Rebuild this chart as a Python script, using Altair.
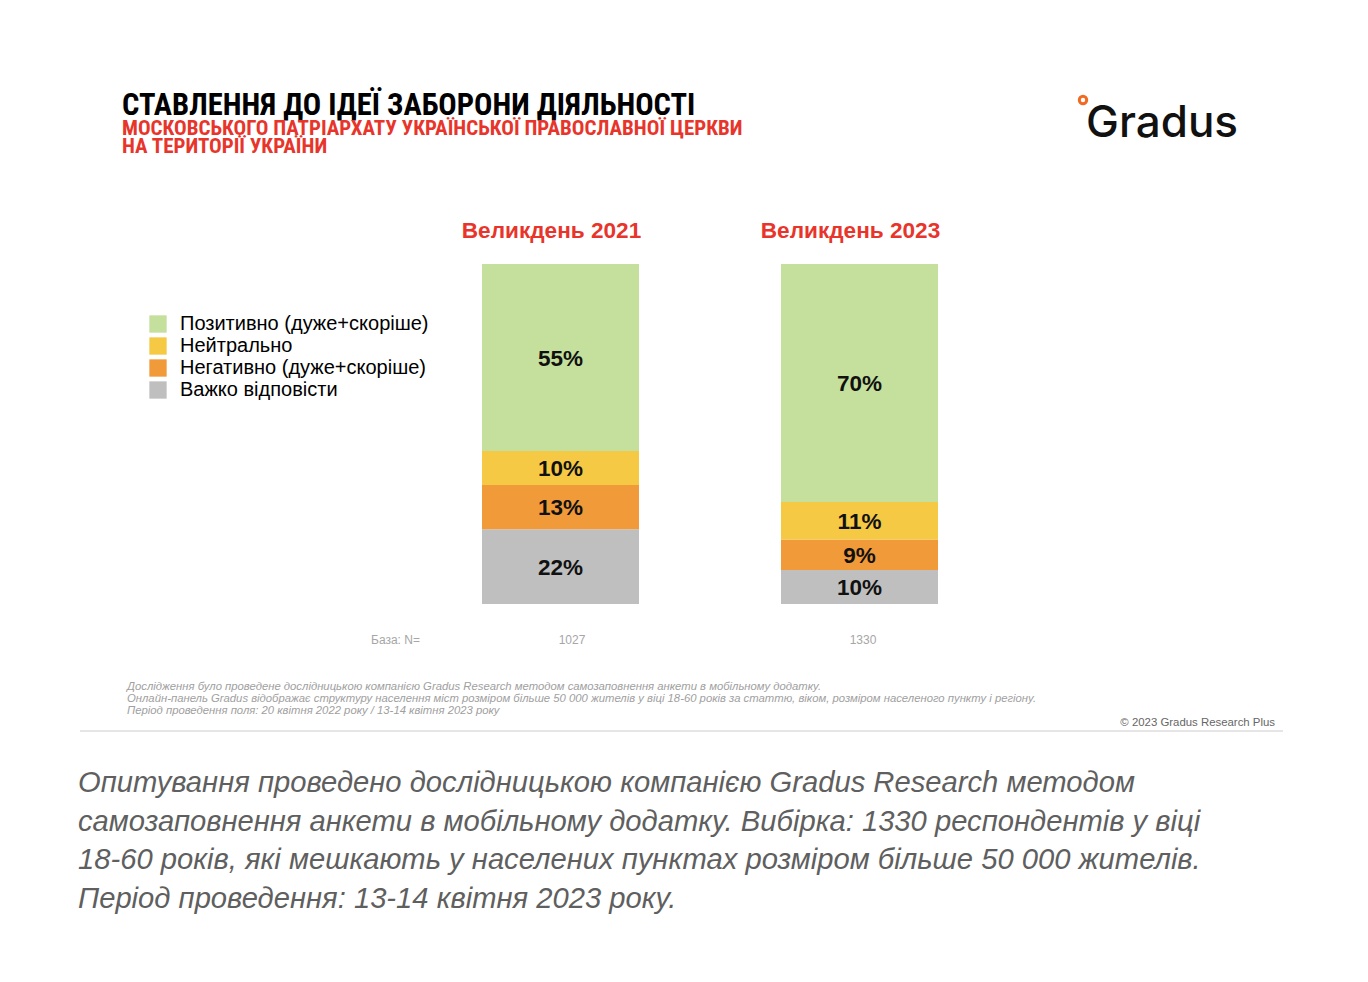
import altair as alt
import pandas as pd

# ---------------- data ----------------
years = ["Великдень 2021", "Великдень 2023"]
categories = ["Позитивно (дуже+скоріше)", "Нейтрально",
              "Негативно (дуже+скоріше)", "Важко відповісти"]
colors = ["#c4e09c", "#f6c945", "#f19a3a", "#bfbfbf"]
values_2021 = [55, 10, 13, 22]
values_2023 = [70, 11, 9, 10]
base_n = ["1027", "1330"]

title_line = "СТАВЛЕННЯ ДО ІДЕЇ ЗАБОРОНИ ДІЯЛЬНОСТІ"
subtitle_lines = ["МОСКОВСЬКОГО ПАТРІАРХАТУ УКРАЇНСЬКОЇ ПРАВОСЛАВНОЇ ЦЕРКВИ",
                  "НА ТЕРИТОРІЇ УКРАЇНИ"]
footnote_lines = [
    "Дослідження було проведене дослідницькою компанією Gradus Research методом самозаповнення анкети в мобільному додатку.",
    "Онлайн-панель Gradus відображає структуру населення міст розміром більше 50 000 жителів у віці 18-60 років за статтю, віком, розміром населеного пункту і регіону.",
    "Період проведення поля: 20 квітня 2022 року / 13-14 квітня 2023 року",
]
caption_lines = [
    "Опитування проведено дослідницькою компанією Gradus Research методом",
    "самозаповнення анкети в мобільному додатку. Вибірка: 1330 респондентів у віці",
    "18-60 років, які мешкають у населених пунктах розміром більше 50 000 жителів.",
    "Період проведення: 13-14 квітня 2023 року.",
]

# ---------------- table ----------------
rows = []
for yr, vals in zip(years, [values_2021, values_2023]):
    start = 0
    # stack from bottom: last category first
    for cat, v in reversed(list(zip(categories, vals))):
        rows.append({"year": yr, "cat": cat, "value": v,
                     "y0": start, "y1": start + v,
                     "mid": start + v / 2, "label": f"{v}%"})
        start += v
df = pd.DataFrame(rows)

W, H = 1352, 966
xscale = alt.Scale(domain=years, range=[474, 930], paddingInner=0.4749, paddingOuter=0)
yscale = alt.Scale(domain=[0, 100], range=[596, 256])
X = alt.X("year:N", scale=xscale, axis=None)

bars = alt.Chart(df).mark_bar(strokeWidth=0).encode(
    x=X,
    y=alt.Y("y0:Q", scale=yscale, axis=None),
    y2="y1:Q",
    color=alt.Color("cat:N", scale=alt.Scale(domain=categories, range=colors),
                    legend=alt.Legend(title=None, orient="none", legendX=140, legendY=306,
                                      symbolType="square", symbolSize=300, symbolStrokeWidth=0,
                                      labelFont="Liberation Sans", labelFontSize=20,
                                      labelColor="#000000", labelOffset=12, rowPadding=2,
                                      labelLimit=0, padding=0)),
)

labels = alt.Chart(df).mark_text(font="Liberation Sans", fontWeight="bold", fontSize=22.5,
                                 color="#111111", baseline="middle", dy=1).encode(
    x=X,
    y=alt.Y("mid:Q", scale=yscale, axis=None),
    text="label:N",
)

hdr = pd.DataFrame({"year": years})
headers = alt.Chart(hdr).mark_text(font="Liberation Sans", fontWeight="bold", fontSize=22.6,
                                   color="#e8352b", baseline="middle", dx=-9).encode(
    x=X, y=alt.value(223), text="year:N")


def txt(text, x, y, **kw):
    return alt.Chart(pd.DataFrame({"t": [text]})).mark_text(**kw).encode(
        x=alt.value(x), y=alt.value(y), text="t:N")


narrow = "Liberation Sans Narrow, Arial Narrow, Roboto Condensed, DejaVu Sans Condensed, sans-serif"
layers = [bars, labels, headers]
layers.append(txt(title_line, 114, 107, font=narrow, fontWeight="bold", fontSize=30.5,
                  color="#000000", align="left", baseline="alphabetic"))
for i, s in enumerate(subtitle_lines):
    layers.append(txt(s, 114, 127 + 18 * i, font=narrow, fontWeight="bold", fontSize=21,
                      color="#e8352b", align="left", baseline="alphabetic"))

# logo
layers.append(txt("Gradus", 1078, 129, font="Inter", fontWeight=500, fontSize=44,
                  color="#111111", align="left", baseline="alphabetic"))
layers.append(alt.Chart(pd.DataFrame({"t": [0]})).mark_point(
    filled=False, stroke="#f26a21", strokeWidth=3, size=55, opacity=1).encode(
    x=alt.value(1075), y=alt.value(92)))

# base
layers.append(txt("База: N=", 363, 632, font="Liberation Sans", fontSize=12,
                  color="#a6a6a6", align="left", baseline="middle"))
for n, xx in zip(base_n, [564, 855]):
    layers.append(txt(n, xx, 632, font="Liberation Sans", fontSize=12,
                      color="#a6a6a6", align="center", baseline="middle"))

# footnotes
for i, s in enumerate(footnote_lines):
    layers.append(txt(s, 119, 682 + 12 * i, font="Liberation Sans", fontStyle="italic",
                      fontSize=11.3, color="#a0a0a0", align="left", baseline="alphabetic"))
layers.append(txt("© 2023 Gradus Research Plus", 1267, 718, font="Liberation Sans",
                  fontSize=11.4, color="#666666", align="right", baseline="alphabetic"))

# separator
layers.append(alt.Chart(pd.DataFrame({"t": [0]})).mark_rule(color="#cccccc", strokeWidth=1).encode(
    x=alt.value(72), x2=alt.value(1275), y=alt.value(723)))

# caption
for i, s in enumerate(caption_lines):
    layers.append(txt(s, 70, 784 + 38.7 * i, font="Liberation Sans", fontStyle="italic",
                      fontSize=29.2, color="#5f5f5f", align="left", baseline="alphabetic"))

chart = alt.layer(*layers).properties(
    width=W, height=H, autosize=alt.AutoSizeParams(type="none"), padding=0,
    background="white",
).configure_view(stroke=None)

chart.save("out.html", embed_options={"renderer": "svg", "actions": False})
